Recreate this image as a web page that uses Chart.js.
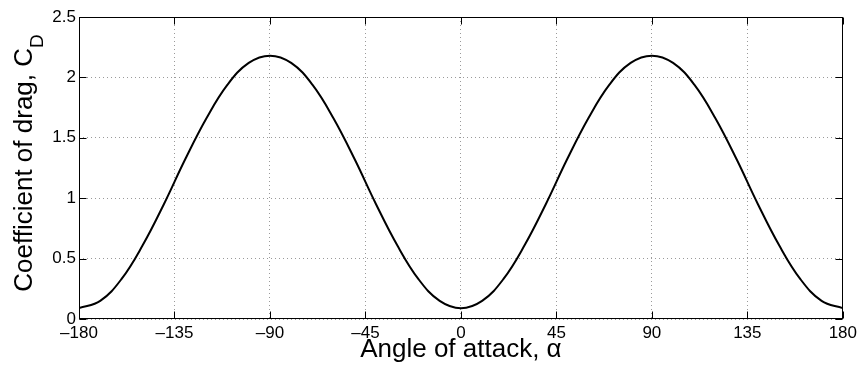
<!DOCTYPE html>
<html>
<head>
<meta charset="utf-8">
<script src="https://cdn.jsdelivr.net/npm/chart.js@4/dist/chart.umd.min.js"></script>
<style>
  body { margin: 0; background: #fff; }
  canvas { display: block; }
</style>
</head>
<body>
<canvas id="dragChart" width="861" height="369"></canvas>
<script>
// Drag coefficient vs angle of attack (10 deg steps)
const angles = [-180, -170, -160, -150, -140, -130, -120, -110, -100, -90,
                -80, -70, -60, -50, -40, -30, -20, -10, 0,
                10, 20, 30, 40, 50, 60, 70, 80, 90,
                100, 110, 120, 130, 140, 150, 160, 170, 180];
const dragCoeff = [0.09, 0.15, 0.33, 0.61, 0.95, 1.32, 1.66, 1.94, 2.12, 2.18,
                   2.12, 1.94, 1.66, 1.32, 0.95, 0.61, 0.33, 0.15, 0.09,
                   0.15, 0.33, 0.61, 0.95, 1.32, 1.66, 1.94, 2.12, 2.18,
                   2.12, 1.94, 1.66, 1.32, 0.95, 0.61, 0.33, 0.15, 0.09];
const xTicks = [-180, -135, -90, -45, 0, 45, 90, 135, 180];
const yTicks = [0, 0.5, 1, 1.5, 2, 2.5];

const FONT = "'Liberation Sans', Arial, Helvetica, sans-serif";

// box, inward tick marks and axis labels (MATLAB look)
const frame = {
    id: 'frame',
    afterDraw(chart) {
        const ctx = chart.ctx;
        const a = chart.chartArea;
        const x = chart.scales.x, y = chart.scales.y;
        ctx.save();
        ctx.strokeStyle = '#000';
        ctx.lineWidth = 1;
        const L = Math.round(a.left) + 0.5, R = Math.round(a.right) - 0.5;
        const T = Math.round(a.top) + 0.5, B = Math.round(a.bottom) - 0.5;
        ctx.strokeRect(L, T, R - L, B - T);
        ctx.beginPath();
        xTicks.forEach(v => {
            const px = Math.round(x.getPixelForValue(v)) + 0.5;
            ctx.moveTo(px, B); ctx.lineTo(px, B - 7);
            ctx.moveTo(px, T); ctx.lineTo(px, T + 7);
        });
        yTicks.forEach(v => {
            const py = Math.round(y.getPixelForValue(v)) + 0.5;
            ctx.moveTo(L, py); ctx.lineTo(L + 7, py);
            ctx.moveTo(R, py); ctx.lineTo(R - 7, py);
        });
        ctx.stroke();

        ctx.fillStyle = '#000';
        // x title
        ctx.font = '26px ' + FONT;
        ctx.textAlign = 'center';
        ctx.textBaseline = 'alphabetic';
        ctx.fillText('Angle of attack, \u03b1', (a.left + a.right) / 2, 357);

        // y title with subscript D
        const main = 'Coefficient of drag, C';
        ctx.font = '26px ' + FONT;
        const w1 = ctx.measureText(main).width;
        ctx.font = '19px ' + FONT;
        const w2 = ctx.measureText('D').width;
        ctx.translate(32, 163);
        ctx.rotate(-Math.PI / 2);
        ctx.textAlign = 'left';
        const start = -(w1 + w2) / 2;
        ctx.font = '26px ' + FONT;
        ctx.fillText(main, start, 0);
        ctx.font = '19px ' + FONT;
        ctx.fillText('D', start + w1, 11);
        ctx.restore();
    }
};

const ctx = document.getElementById('dragChart').getContext('2d');
new Chart(ctx, {
    type: 'line',
    data: {
        datasets: [{
            label: 'C_D',
            data: angles.map((a, i) => ({ x: a, y: dragCoeff[i] })),
            borderColor: '#000',
            borderWidth: 2,
            pointRadius: 0,
            fill: false,
            tension: 0.4
        }]
    },
    options: {
        responsive: false,
        animation: false,
        layout: { padding: { top: 17, right: 14, left: 0, bottom: 0 } },
        plugins: {
            legend: { display: false },
            tooltip: { enabled: false }
        },
        scales: {
            x: {
                type: 'linear',
                min: -180,
                max: 180,
                afterFit: s => { s.height = 50; },
                afterBuildTicks: s => { s.ticks = xTicks.map(v => ({ value: v })); },
                ticks: {
                    autoSkip: false,
                    maxRotation: 0,
                    padding: 4,
                    color: '#000',
                    font: { family: FONT, size: 17 },
                    callback: v => v < 0 ? '\u2013' + Math.abs(v) : String(v)
                },
                grid: { color: '#9a9a9a', lineWidth: 1, drawTicks: false },
                border: { display: false, dash: [1, 3] }
            },
            y: {
                min: 0,
                max: 2.5,
                afterFit: s => { s.width = 79; },
                afterBuildTicks: s => { s.ticks = yTicks.map(v => ({ value: v })); },
                ticks: {
                    padding: 3,
                    color: '#000',
                    font: { family: FONT, size: 17 },
                    callback: v => String(v)
                },
                grid: { color: '#9a9a9a', lineWidth: 1, drawTicks: false },
                border: { display: false, dash: [1, 3] }
            }
        }
    },
    plugins: [frame]
});
</script>
</body>
</html>
